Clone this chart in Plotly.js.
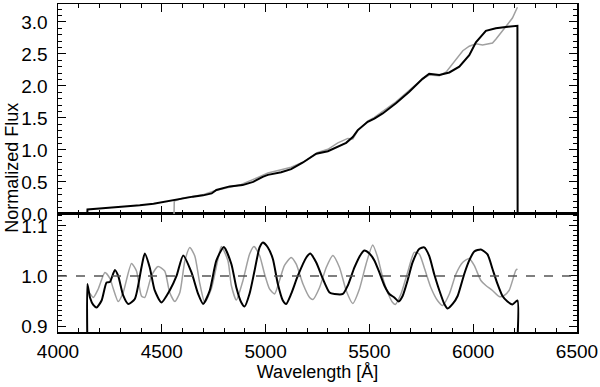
<!DOCTYPE html>
<html>
<head>
<meta charset="utf-8">
<script src="https://cdn.plot.ly/plotly-3.0.1.min.js"></script>
<style>
  body { margin: 0; background: #fff; }
  #plot { width: 600px; height: 387px; }
</style>
</head>
<body>
<div id="plot"></div>
<script>
// top panel: normalized flux, black = observed, gray = model
const fluxWaveBlack = [4141, 4142, 4200, 4266, 4330, 4394, 4460, 4500, 4523, 4550, 4603, 4650, 4699, 4740, 4763, 4793, 4827, 4889, 4940, 4986, 5011, 5075, 5100, 5123, 5178, 5244, 5300, 5348, 5388, 5420, 5444, 5492, 5524, 5564, 5628, 5692, 5756, 5788, 5837, 5885, 5933, 5981, 6013, 6061, 6109, 6157, 6213, 6214];
const fluxBlack = [0.0, 0.07, 0.085, 0.10, 0.115, 0.135, 0.16, 0.185, 0.19, 0.21, 0.25, 0.27, 0.29, 0.32, 0.375, 0.40, 0.43, 0.45, 0.50, 0.58, 0.61, 0.65, 0.68, 0.70, 0.80, 0.94, 0.98, 1.05, 1.11, 1.20, 1.31, 1.44, 1.49, 1.57, 1.73, 1.91, 2.11, 2.19, 2.17, 2.21, 2.30, 2.48, 2.68, 2.86, 2.90, 2.92, 2.94, 0.0];

const fluxWaveGray = [4559, 4560, 4603, 4699, 4763, 4827, 4883, 4963, 5011, 5075, 5123, 5188, 5252, 5300, 5348, 5396, 5420, 5444, 5492, 5524, 5564, 5628, 5692, 5756, 5788, 5837, 5870, 5900, 5950, 5981, 6013, 6045, 6093, 6109, 6157, 6189, 6213];
const fluxGray = [0.0, 0.20, 0.25, 0.30, 0.37, 0.42, 0.46, 0.57, 0.64, 0.69, 0.73, 0.82, 0.96, 1.01, 1.11, 1.18, 1.17, 1.30, 1.45, 1.51, 1.60, 1.75, 1.93, 2.11, 2.17, 2.16, 2.22, 2.35, 2.55, 2.62, 2.66, 2.64, 2.67, 2.73, 2.93, 3.06, 3.23];

// bottom panel: flux divided by continuum
const ratioWaveBlack = [4141, 4141.5, 4154, 4170, 4186, 4210, 4234, 4250, 4274, 4290, 4314, 4338, 4370, 4402, 4418, 4442, 4466, 4498, 4538, 4571, 4603, 4643, 4675, 4699, 4731, 4763, 4799, 4835, 4859, 4883, 4899, 4923, 4947, 4971, 4987, 5011, 5035, 5059, 5083, 5099, 5123, 5155, 5196, 5215, 5244, 5276, 5308, 5332, 5372, 5396, 5428, 5460, 5476, 5500, 5524, 5548, 5572, 5596, 5620, 5641, 5660, 5684, 5708, 5740, 5764, 5788, 5812, 5837, 5861, 5877, 5901, 5925, 5957, 5981, 6005, 6037, 6069, 6093, 6117, 6141, 6165, 6189, 6213, 6214];
const ratioBlack = [0.88, 0.984, 0.957, 0.942, 0.937, 0.951, 0.987, 0.988, 1.012, 1.0, 0.961, 0.944, 0.954, 1.017, 1.045, 1.017, 0.971, 0.947, 0.971, 1.0, 1.041, 1.007, 0.964, 0.944, 0.971, 1.031, 1.058, 1.024, 0.977, 0.947, 0.939, 0.965, 1.011, 1.057, 1.067, 1.057, 1.034, 0.984, 0.951, 0.944, 0.964, 1.0, 1.037, 1.045, 1.027, 0.994, 0.967, 0.964, 0.964, 0.981, 1.017, 1.044, 1.051, 1.045, 1.031, 1.007, 0.981, 0.964, 0.957, 0.949, 0.96, 0.991, 1.027, 1.054, 1.057, 1.04, 1.004, 0.971, 0.944, 0.935, 0.944, 0.96, 1.004, 1.031, 1.049, 1.053, 1.043, 1.014, 0.984, 0.96, 0.949, 0.943, 0.951, 0.88];

const ratioWaveGray = [4146, 4170, 4194, 4226, 4250, 4266, 4290, 4314, 4354, 4378, 4402, 4418, 4450, 4482, 4514, 4538, 4563, 4587, 4611, 4635, 4659, 4683, 4707, 4739, 4771, 4787, 4819, 4835, 4859, 4891, 4923, 4944, 4971, 4995, 5019, 5043, 5067, 5091, 5123, 5147, 5180, 5212, 5228, 5260, 5292, 5324, 5356, 5388, 5420, 5452, 5484, 5516, 5540, 5564, 5588, 5612, 5625, 5652, 5684, 5716, 5740, 5764, 5796, 5828, 5853, 5885, 5917, 5949, 5981, 6005, 6037, 6061, 6093, 6125, 6149, 6173, 6205, 6213];
const ratioGray = [0.97, 0.957, 0.974, 1.007, 0.995, 0.975, 0.949, 0.967, 1.025, 1.01, 0.96, 0.957, 1.0, 1.019, 1.01, 0.967, 0.949, 0.967, 1.03, 1.057, 1.04, 0.985, 0.947, 0.975, 1.035, 1.059, 1.03, 0.981, 0.952, 0.991, 1.044, 1.059, 1.041, 1.004, 0.974, 0.964, 0.991, 1.021, 1.037, 1.024, 0.984, 0.957, 0.953, 0.977, 1.017, 1.041, 1.017, 0.971, 0.945, 0.974, 1.024, 1.062, 1.037, 0.997, 0.967, 0.947, 0.943, 0.964, 1.007, 1.047, 1.044, 1.017, 0.977, 0.951, 0.941, 0.964, 1.004, 1.027, 1.035, 1.021, 0.991, 0.981, 0.971, 0.959, 0.961, 0.971, 1.011, 1.014];

const font = 'Liberation Sans, Arial, sans-serif';

function axisStyle(extra) {
    const base = {
        showline: true,
        linecolor: 'black',
        linewidth: 1.5,
        mirror: 'allticks',
        ticks: 'inside',
        ticklen: 8,
        tickwidth: 1,
        tickcolor: 'black',
        showgrid: false,
        zeroline: false,
        tickfont: { family: font, size: 19, color: 'black' }
    };
    return Object.assign(base, extra);
}

function drawChart() {
    const data = [
        { x: fluxWaveGray, y: fluxGray, xaxis: 'x2', yaxis: 'y2', type: 'scatter', mode: 'lines',
          line: { color: '#a0a0a0', width: 1.5 } },
        { x: fluxWaveBlack, y: fluxBlack, xaxis: 'x2', yaxis: 'y2', type: 'scatter', mode: 'lines',
          line: { color: 'black', width: 2 } },
        { x: ratioWaveGray, y: ratioGray, xaxis: 'x', yaxis: 'y', type: 'scatter', mode: 'lines',
          line: { color: '#a0a0a0', width: 1.5, shape: 'spline', smoothing: 0.6 } },
        { x: ratioWaveBlack, y: ratioBlack, xaxis: 'x', yaxis: 'y', type: 'scatter', mode: 'lines',
          line: { color: 'black', width: 2, shape: 'spline', smoothing: 0.6 } }
    ];

    const layout = {
        width: 600,
        height: 387,
        margin: { l: 58, r: 23, t: 4, b: 55 },
        showlegend: false,
        paper_bgcolor: 'white',
        plot_bgcolor: 'white',
        font: { family: font, size: 19, color: 'black' },
        xaxis: axisStyle({
            anchor: 'y', domain: [0, 1], range: [4000, 6500], dtick: 500,
            minor: { dtick: 100, ticklen: 4, ticks: 'inside', tickcolor: 'black' },
            ticklabelstandoff: 2,
            title: { text: 'Wavelength [Å]', standoff: 2, font: { family: font, size: 18 } }
        }),
        xaxis2: axisStyle({
            anchor: 'y2', matches: 'x', range: [4000, 6500], dtick: 500, showticklabels: false,
            minor: { dtick: 100, ticklen: 4, ticks: 'inside', tickcolor: 'black' }
        }),
        yaxis: axisStyle({
            domain: [0, 0.36], range: [0.888, 1.124], dtick: 0.1, tickformat: '.1f',
            ticklabelstandoff: 5,
            minor: { dtick: 0.01, ticklen: 4, ticks: 'inside', tickcolor: 'black' }
        }),
        yaxis2: axisStyle({
            domain: [0.36, 1], range: [0, 3.28], dtick: 0.5, tickformat: '.1f',
            ticklabelstandoff: 5,
            minor: { dtick: 0.1, ticklen: 4, ticks: 'inside', tickcolor: 'black' }
        }),
        shapes: [
            { type: 'line', xref: 'paper', yref: 'y', x0: 0, x1: 1, y0: 1, y1: 1,
              line: { color: '#555555', width: 1.5, dash: 'dash' } }
        ],
        annotations: [
            { text: 'Normalized Flux', xref: 'paper', yref: 'paper', x: -0.089, y: 0.5,
              xanchor: 'center', yanchor: 'middle',
              textangle: -90, showarrow: false, font: { family: font, size: 18, color: 'black' } }
        ]
    };

    Plotly.newPlot('plot', data, layout, { staticPlot: true });
}

drawChart();
</script>
</body>
</html>
